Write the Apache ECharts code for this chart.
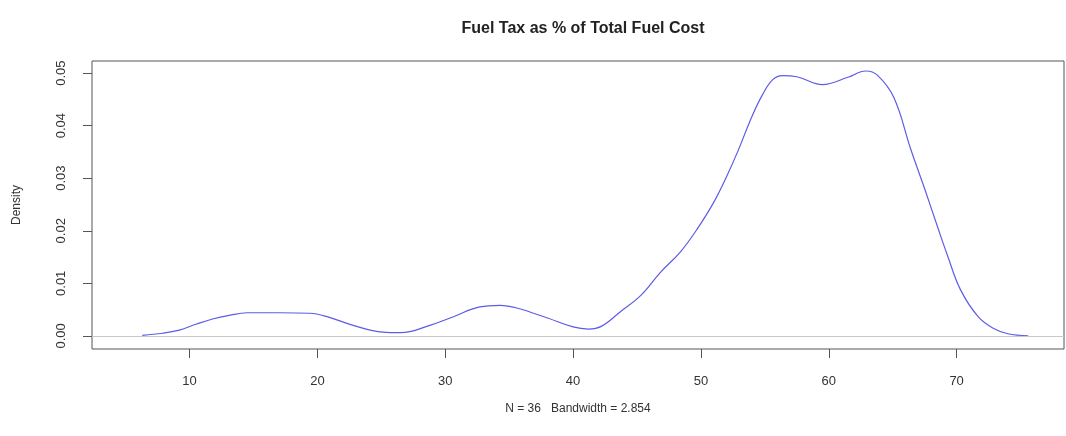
<!DOCTYPE html>
<html>
<head>
<meta charset="utf-8">
<title>Fuel Tax density</title>
<script src="https://cdn.jsdelivr.net/npm/echarts@6/dist/echarts.min.js"></script>
<style>
	html, body { margin: 0; padding: 0; background: #fff; }
	#chart { width: 1066px; height: 436px; }
</style>
</head>
<body>
<div id="chart"></div>
<script>
// density curve
var taxPct = [6.3, 7.9, 9.2, 10.5, 11.8, 13.1, 14.5, 17.0, 19.4, 20.7, 22.8, 25.1, 26.5, 28.8, 30.6, 32.7, 34.3, 35.6, 38.0, 40.0, 41.2, 42.2, 43.7, 45.3, 46.8, 48.4, 49.7, 51.0, 52.1, 52.9, 54.0, 54.8, 55.6, 56.4, 57.5, 59.5, 61.5, 62.9, 63.8, 65.1, 66.4, 67.5, 68.5, 69.3, 70.3, 71.7, 72.9, 74.0, 75.6];
var density = [0.0001, 0.0005, 0.0011, 0.0022, 0.0032, 0.0039, 0.0044, 0.0044, 0.0043, 0.0037, 0.0020, 0.0007, 0.0006, 0.0020, 0.0036, 0.0055, 0.0058, 0.0053, 0.0034, 0.0017, 0.0013, 0.0018, 0.0046, 0.0077, 0.0120, 0.0160, 0.0203, 0.0254, 0.0308, 0.0352, 0.0418, 0.0458, 0.0487, 0.0495, 0.0493, 0.0478, 0.0492, 0.0504, 0.0496, 0.0453, 0.0356, 0.0280, 0.0208, 0.0152, 0.0088, 0.0036, 0.0014, 0.0004, 0.0000];
var xTicks = [10, 20, 30, 40, 50, 60, 70];
var yTicks = [0, 0.01, 0.02, 0.03, 0.04, 0.05];

var chart = echarts.init(document.getElementById('chart'));
var textColor = '#333';
var font = 'Liberation Sans, Arial, sans-serif';

var seriesData = taxPct.map(function (x, i) {
	return [x, density[i]];
});

var option = {
	animation: false,
	title: {
		text: 'Fuel Tax as % of Total Fuel Cost',
		left: 578,
		textAlign: 'center',
		top: 16,
		textStyle: {
			fontFamily: font,
			fontWeight: 'bold',
			fontSize: 16,
			color: '#222',
		},
	},
	grid: {
		left: 92,
		right: 2,
		top: 61,
		bottom: 87,
		show: true,
		borderColor: '#555',
		borderWidth: 1,
		containLabel: false,
	},
	xAxis: {
		type: 'value',
		min: 2.37,
		max: 78.4,
		name: 'N = 36   Bandwidth = 2.854',
		nameLocation: 'middle',
		nameGap: 54,
		nameTextStyle: { fontFamily: font, fontSize: 12, color: textColor },
		axisLine: { show: false, onZero: false },
		splitLine: { show: false },
		axisTick: {
			show: true,
			length: 9,
			customValues: xTicks,
			lineStyle: { color: '#555' },
		},
		axisLabel: {
			customValues: xTicks,
			margin: 26,
			fontFamily: font,
			fontSize: 13,
			color: textColor,
		},
	},
	yAxis: {
		type: 'value',
		min: -0.0025,
		max: 0.0523,
		name: 'Density',
		nameLocation: 'middle',
		nameRotate: 90,
		nameGap: 69,
		nameTextStyle: { fontFamily: font, fontSize: 12, color: textColor },
		axisLine: { show: false, onZero: false },
		splitLine: { show: false },
		axisTick: {
			show: true,
			length: 9,
			customValues: yTicks,
			lineStyle: { color: '#555' },
		},
		axisLabel: {
			customValues: yTicks,
			rotate: 90,
			margin: 24,
			fontFamily: font,
			fontSize: 13,
			color: textColor,
			formatter: function (v) {
				return v.toFixed(2);
			},
		},
	},
	series: [
		{
			type: 'line',
			data: seriesData,
			smooth: 0.4,
			symbol: 'none',
			lineStyle: { color: '#5c5ce8', width: 1.2 },
			markLine: {
				silent: true,
				symbol: 'none',
				label: { show: false },
				lineStyle: { color: '#c8c8c8', width: 1, type: 'solid' },
				data: [{ yAxis: 0 }],
			},
		},
	],
};

chart.setOption(option);
</script>
</body>
</html>
